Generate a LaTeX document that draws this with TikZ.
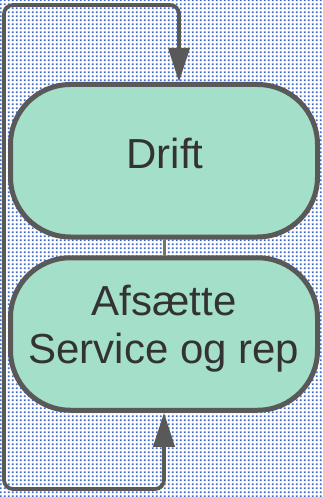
\documentclass[tikz,border=0pt]{standalone}
\usepackage{fontspec}
\setmainfont{Liberation Sans}
\usetikzlibrary{arrows.meta,patterns}
\definecolor{dotblue}{HTML}{3F6AC8}
\definecolor{mint}{HTML}{A4DFC9}
\definecolor{edgegray}{HTML}{595959}
\definecolor{txtgray}{HTML}{333333}
\pgfdeclarepatternformonly{sqdots}{\pgfpointorigin}{\pgfpoint{4pt}{4pt}}{\pgfpoint{4pt}{4pt}}{%
  \pgfpathrectangle{\pgfpoint{1pt}{1pt}}{\pgfpoint{2.2pt}{2.2pt}}\pgfusepath{fill}}
\tikzset{
  stagebox/.style={draw=edgegray, fill=mint, line width=5pt, rectangle,
    rounded corners=60pt, minimum width=307pt, minimum height=152.5pt, inner sep=0pt},
  stagetext/.style={text=txtgray, font=\fontsize{42}{48}\selectfont, align=center, inner sep=0pt},
  loopline/.style={draw=edgegray, line width=3.8pt, rounded corners=9pt,
    {Triangle[width=21pt,length=34pt]}-{Triangle[width=21pt,length=34pt]}},
  linkline/.style={draw=edgegray!85!white, line width=3pt}
}
\begin{document}
\begin{tikzpicture}[x=1pt,y=-1pt]
\useasboundingbox (0,0) rectangle (323,497);
\fill[white] (0,0) rectangle (323,497);
\fill[pattern=sqdots, pattern color=dotblue] (0,0) rectangle (323,497);
\node[stagebox] (drift) at (164,160.75) {};
\node[stagebox] (afs) at (164,334) {};
\node[stagetext, anchor=base] (drifttxt) at (165,168) {Drift};
\node[stagetext] (afstxt) at (164,328.5) {Afsætte\\Service og rep};
\coordinate (bl) at (4,489);
\coordinate (tr) at (179,5);
\draw[linkline] (drift.south) -- (afs.north);
\draw[loopline] (afs.south) |- (bl) |- (tr) -- (tr |- drift.north);
\end{tikzpicture}
\end{document}
